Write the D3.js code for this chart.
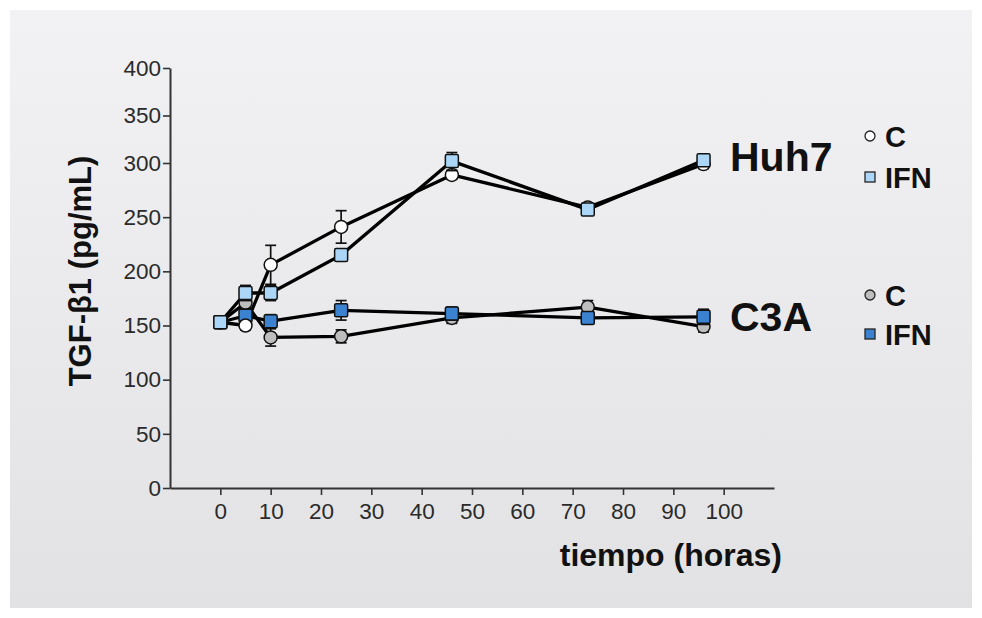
<!DOCTYPE html>
<html>
<head>
<meta charset="utf-8">
<script src="https://cdn.jsdelivr.net/npm/d3@7"></script>
<style>
  html, body { margin: 0; padding: 0; background: #ffffff; }
  svg { display: block; }
  text { font-family: "Liberation Sans", Arial, Helvetica, sans-serif; }
</style>
</head>
<body>
<svg id="chart" width="982" height="618"></svg>
<script>
// ---- data ----
const times = [0, 5, 10, 24, 46, 73, 96];
const huh7C      = [153, 150, 206, 241, 289, 259, 299];
const huh7CErr   = [3, 4, 18, 15, 4, 4, 4];
const huh7IFN    = [153, 180, 180, 215, 302, 257, 303];
const huh7IFNErr = [4, 7, 7, 5, 9, 5, 5];
const c3aC       = [153, 171, 139, 140, 157, 167, 149];
const c3aCErr    = [3, 5, 8, 6, 5, 6, 5];
const c3aIFN     = [153, 159, 154, 164, 161, 157, 158];
const c3aIFNErr  = [3, 5, 6, 9, 6, 5, 7];
const yTicks = [0, 50, 100, 150, 200, 250, 300, 350, 400];
const xTicks = [0, 10, 20, 30, 40, 50, 60, 70, 80, 90, 100];
const cellLabels = ["Huh7", "C3A"];
const legendLabels = ["C", "IFN"];

const series = [
  {name: "C3A C",    values: c3aC,    err: c3aCErr,    shape: "circle", fill: "#bebebe"},
  {name: "C3A IFN",  values: c3aIFN,  err: c3aIFNErr,  shape: "square", fill: "#3b83d1"},
  {name: "Huh7 C",   values: huh7C,   err: huh7CErr,   shape: "circle", fill: "#ffffff"},
  {name: "Huh7 IFN", values: huh7IFN, err: huh7IFNErr, shape: "square", fill: "#acd6f7"}
];

const svg = d3.select("#chart");

// background panel
const defs = svg.append("defs");
const grad = defs.append("linearGradient").attr("id", "bg").attr("x1", 0).attr("y1", 0).attr("x2", 0).attr("y2", 1);
grad.append("stop").attr("offset", "0%").attr("stop-color", "#f2f2f4");
grad.append("stop").attr("offset", "100%").attr("stop-color", "#e2e2e4");
svg.append("rect").attr("x", 10).attr("y", 10).attr("width", 962).attr("height", 598).attr("fill", "url(#bg)");

// scales
const x = d3.scaleLinear().domain([-10, 110]).range([170, 774]);
const y = d3.scaleLinear().domain([0, 300, 400]).range([488, 163, 68]);

// axes
const yAxis = svg.append("g").attr("transform", "translate(170,0)")
  .call(d3.axisLeft(y).tickValues(yTicks).tickSizeInner(7).tickSizeOuter(0).tickPadding(2));
const xAxis = svg.append("g").attr("transform", "translate(0,488)")
  .call(d3.axisBottom(x).tickValues(xTicks).tickSizeInner(7).tickSizeOuter(0).tickPadding(8));
[yAxis, xAxis].forEach(g => {
  g.select(".domain").attr("stroke", "#333").attr("stroke-width", 2);
  g.selectAll(".tick line").attr("stroke", "#333").attr("stroke-width", 1.6);
  g.selectAll(".tick text").attr("fill", "#2a2a2a").style("font-size", "22.5px")
    .style("font-family", "'Liberation Sans', Arial, sans-serif");
});

// lines
const line = d3.line().x((d, i) => x(times[i])).y(d => y(d));
const plot = svg.append("g");
series.forEach(s => {
  plot.append("path").datum(s.values).attr("d", line)
    .attr("fill", "none").attr("stroke", "#000").attr("stroke-width", 3.3).attr("stroke-linejoin", "round");
});

// error bars + markers
series.forEach(s => {
  const g = plot.append("g");
  s.values.forEach((v, i) => {
    const cx = x(times[i]);
    const top = y(v + s.err[i]), bot = y(v - s.err[i]);
    g.append("line").attr("x1", cx).attr("x2", cx).attr("y1", top).attr("y2", bot)
      .attr("stroke", "#111").attr("stroke-width", 1.7);
    [top, bot].forEach(yy => g.append("line").attr("x1", cx - 5.5).attr("x2", cx + 5.5)
      .attr("y1", yy).attr("y2", yy).attr("stroke", "#111").attr("stroke-width", 1.7));
  });
  s.values.forEach((v, i) => {
    const cx = x(times[i]), cy = y(v);
    if (s.shape === "circle") {
      g.append("circle").attr("cx", cx).attr("cy", cy).attr("r", 6.5)
        .attr("fill", s.fill).attr("stroke", "#111").attr("stroke-width", 1.5);
    } else {
      g.append("rect").attr("x", cx - 6.5).attr("y", cy - 6.5).attr("width", 13).attr("height", 13)
        .attr("rx", 1.5).attr("fill", s.fill).attr("stroke", "#111").attr("stroke-width", 1.5);
    }
  });
});

// cell-line labels
svg.append("text").attr("x", 730).attr("y", 171).text(cellLabels[0])
  .style("font-size", "41px").style("font-weight", "bold").attr("fill", "#111");
svg.append("text").attr("x", 730).attr("y", 331).text(cellLabels[1])
  .style("font-size", "41px").style("font-weight", "bold").attr("fill", "#111");

// legends
const leg = [
  {s: series[2], y: 136, label: legendLabels[0]},
  {s: series[3], y: 177, label: legendLabels[1]},
  {s: series[0], y: 295, label: legendLabels[0]},
  {s: series[1], y: 334, label: legendLabels[1]}
];
leg.forEach(l => {
  if (l.s.shape === "circle") {
    svg.append("circle").attr("cx", 870).attr("cy", l.y).attr("r", 5)
      .attr("fill", l.s.fill).attr("stroke", "#222").attr("stroke-width", 1.3);
  } else {
    svg.append("rect").attr("x", 865).attr("y", l.y - 5).attr("width", 10).attr("height", 10)
      .attr("fill", l.s.fill).attr("stroke", "#222").attr("stroke-width", 1.3);
  }
  svg.append("text").attr("x", 885).attr("y", l.y + 11).text(l.label)
    .style("font-size", "29px").style("font-weight", "bold").attr("fill", "#111");
});

// axis titles
svg.append("text").attr("transform", "translate(91,271) rotate(-90)").attr("text-anchor", "middle")
  .style("font-size", "31px").style("font-weight", "bold").attr("fill", "#111").text("TGF-β1 (pg/mL)");
svg.append("text").attr("x", 782).attr("y", 566).attr("text-anchor", "end")
  .style("font-size", "32px").style("font-weight", "bold").attr("fill", "#111").text("tiempo (horas)");
</script>
</body>
</html>
